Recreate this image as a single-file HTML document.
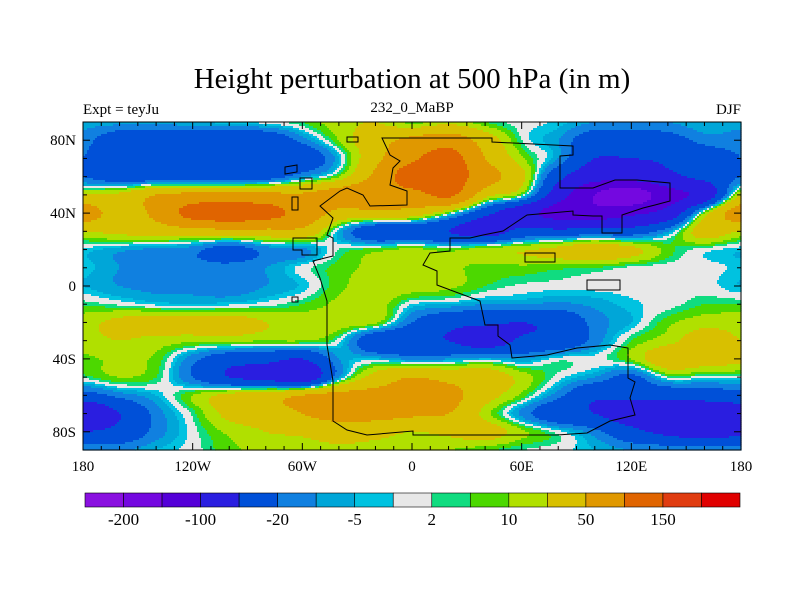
<!DOCTYPE html>
<html><head><meta charset="utf-8">
<style>
body{margin:0;background:#fff;}
svg{display:block;font-family:"Liberation Serif",serif;}
</style></head>
<body>
<svg id="chart" width="800" height="600" viewBox="0 0 800 600">
<rect width="800" height="600" fill="#fff"/>
<text x="412" y="88" text-anchor="middle" font-size="29">Height perturbation at 500 hPa (in m)</text>
<text x="83" y="114" font-size="15">Expt = teyJu</text>
<text x="412" y="112" text-anchor="middle" font-size="15">232_0_MaBP</text>
<text x="741" y="114" text-anchor="end" font-size="15">DJF</text>
<g id="field"></g>
<g id="coast"></g>
<g id="axes"></g>
<g id="cbar"></g>
</svg>
<script>
const lons=[-180,-160,-140,-120,-100,-80,-60,-40,-20,0,20,40,60,80,100,120,140,160,180];
const lats=[90,80,70,60,50,40,30,20,10,0,-10,-20,-30,-40,-50,-60,-70,-80,-90];
const heightRows=[
[-7,-7,-7,-5,-3,0,5,15,20,7,15,5,0,-3,-10,-10,-10,-5,-7],
[-15,-35,-40,-40,-40,-40,-15,10,35,60,75,35,2,-10,-35,-35,-30,-15,-15],
[-20,-35,-45,-45,-45,-45,-40,-5,40,90,125,50,12,-10,-50,-50,-45,-35,-20],
[-20,-35,-35,-35,-35,-30,-10,10,60,130,130,70,25,-40,-80,-80,-60,-40,-20],
[20,25,50,60,60,60,55,70,80,80,110,30,5,-75,-150,-180,-120,-80,20],
[70,35,60,120,130,120,80,40,40,35,5,-40,-80,-120,-130,-110,-80,10,70],
[20,25,30,35,40,40,40,-5,-40,-40,-50,-70,-40,-40,-35,-35,-10,30,20],
[-3,-8,-12,-15,-30,-15,-12,2,7,12,7,15,18,25,35,25,7,0,-4],
[-3,-10,-12,-15,-15,-10,0,7,12,12,12,7,8,6,5,1,0,0,-3],
[-5,-10,-12,-12,-15,-10,-4,8,15,15,12,5,1,0,0,0,0,0,-5],
[4,1,-3,-4,-3,0,5,12,15,-2,-5,-10,-10,-12,-8,-3,0,5,5],
[15,25,30,30,30,20,15,15,12,-20,-40,-45,-50,-40,-15,-5,8,15,15],
[15,20,15,12,12,10,10,0,-40,-45,-50,-70,-45,-40,-15,5,15,30,20],
[8,12,8,-15,-35,-40,-50,-10,-5,-12,-10,-5,-10,0,0,10,35,30,25],
[3,10,5,-20,-50,-60,-80,-10,30,50,40,35,15,0,-10,-25,2,0,0],
[-30,-15,-5,10,25,35,50,60,60,55,60,30,8,-15,-45,-40,-40,-35,-30],
[-90,-50,-15,3,25,30,50,60,60,55,50,15,-12,-40,-50,-70,-80,-80,-70],
[-50,-40,-15,0,12,20,25,35,30,20,25,30,12,0,-15,-40,-60,-70,-60],
[-10,-12,-5,0,8,12,12,15,12,10,10,6,2,0,-5,-10,-10,-12,-12]
];
const levelBounds=[-200,-150,-100,-50,-20,-10,-5,-2,2,5,10,20,50,100,150,200];
const tickLabels=["-200","-100","-20","-5","2","10","50","150"];
const colors=["#8a10e0","#7408e0","#5400d8","#2a1ee0","#0050d8","#1080e0","#00a6d8","#00c2e0","#e8e8e8","#10dc80","#4cd800","#b0e000","#d8c000","#e09800","#e06400","#e03c10","#e00000"];
const xTickLons=[-180,-120,-60,0,60,120,180];
const xTickText=["180","120W","60W","0","60E","120E","180"];
const yTickLats=[80,40,0,-40,-80];
const yTickText=["80N","40N","0","40S","80S"];

const X0=83,X1=741,Y0=122,Y1=450;
const xOf=lon=>X0+(lon+180)/360*(X1-X0);
const yOf=lat=>Y0+(90-lat)/180*(Y1-Y0);
const NS="http://www.w3.org/2000/svg";
function mk(tag,attrs,parent){const e=document.createElementNS(NS,tag);for(const k in attrs)e.setAttribute(k,attrs[k]);parent.appendChild(e);return e;}
function level(v){let k=0;while(k<levelBounds.length&&v>=levelBounds[k])k++;return k;}
function cr(p0,p1,p2,p3,t){return 0.5*((2*p1)+(-p0+p2)*t+(2*p0-5*p1+4*p2-p3)*t*t+(-p0+3*p1-3*p2+p3)*t*t*t);}
function sample(lon,lat){
  const fx=(lon-lons[0])/(lons[1]-lons[0]), fy=(lats[0]-lat)/(lats[0]-lats[1]);
  const nx=lons.length, ny=lats.length;
  const ix=Math.min(Math.floor(fx),nx-2), iy=Math.min(Math.floor(fy),ny-2);
  const tx=fx-ix, ty=fy-iy;
  const g=(i,j)=>heightRows[Math.max(0,Math.min(ny-1,j))][Math.max(0,Math.min(nx-1,i))];
  const r=[];
  for(let j=-1;j<3;j++)r.push(cr(g(ix-1,iy+j),g(ix,iy+j),g(ix+1,iy+j),g(ix+2,iy+j),tx));
  return cr(r[0],r[1],r[2],r[3],ty);
}
const field=document.getElementById('field');
const step=2;
for(let py=Y0;py<Y1;py+=step){
  const lat=90-(py+step/2-Y0)/(Y1-Y0)*180;
  let runStart=X0,runLev=-1;
  for(let px=X0;px<=X1;px+=step){
    let lev=-2;
    if(px<X1){const lon=-180+(px+step/2-X0)/(X1-X0)*360;lev=level(sample(lon,lat));}
    if(lev!==runLev){
      if(runLev>=0){
        const r=mk('rect',{x:runStart,y:py,width:Math.min(px,X1)-runStart+0.6,height:step+0.6,fill:colors[runLev]},field);
        
        
      }
      runStart=px;runLev=lev;
    }
  }
}
const coast=document.getElementById('coast');
const mainland=[[382,138],[492,138],[492,142],[573,146],[573,155],[560,156],[560,188],[593,188],[615,180],[637,180],[670,183],[670,201],[655,205],[643,208],[622,215],[622,233],[602,233],[602,216],[593,216],[573,215],[573,211],[527,215],[503,231],[483,235],[470,238],[450,238],[450,251],[430,253],[423,265],[437,271],[437,285],[453,291],[480,301],[485,325],[498,325],[498,336],[510,345],[512,358],[547,355],[577,348],[610,345],[628,348],[628,378],[635,382],[630,398],[635,415],[610,421],[587,433],[557,435],[413,435],[413,431],[367,435],[347,430],[333,421],[333,381],[327,345],[327,301],[320,278],[313,261],[333,256],[333,238],[327,235],[333,218],[320,206],[340,191],[347,188],[363,195],[370,206],[407,205],[407,191],[390,185],[393,168],[400,161],[390,155],[382,138]];
const isl=[[[285,167],[297,165],[297,172],[285,174]],[[300,178],[312,178],[312,189],[300,189]],[[292,197],[298,197],[298,210],[292,210]],[[293,238],[317,238],[317,255],[302,255],[302,250],[293,250]],[[292,297],[298,297],[298,302],[292,302]],[[347,137],[358,137],[358,142],[347,142]],[[525,253],[555,253],[555,262],[525,262]],[[587,280],[620,280],[620,290],[587,290]]];
[mainland,...isl].forEach((p,i)=>{const e=mk('polygon',{points:p.map(q=>q.join(',')).join(' '),fill:'none',stroke:'#000','stroke-width':1},coast);});
const axes=document.getElementById('axes');
mk('rect',{x:X0,y:Y0,width:X1-X0,height:Y1-Y0,fill:'none',stroke:'#000','stroke-width':1},axes);
for(let lon=-180;lon<=180;lon+=10){const x=xOf(lon),L=lon%60===0?7:4;mk('line',{x1:x,y1:Y0,x2:x,y2:Y0+L,stroke:'#000'},axes);mk('line',{x1:x,y1:Y1,x2:x,y2:Y1-L,stroke:'#000'},axes);}
for(let lat=-80;lat<=80;lat+=10){const y=yOf(lat),L=lat%40===0?7:4;mk('line',{x1:X0,y1:y,x2:X0+L,y2:y,stroke:'#000'},axes);mk('line',{x1:X1,y1:y,x2:X1-L,y2:y,stroke:'#000'},axes);}
xTickLons.forEach((lon,i)=>{const t=mk('text',{x:xOf(lon),y:471,'text-anchor':'middle','font-size':15},axes);t.textContent=xTickText[i];});
yTickLats.forEach((lat,i)=>{const t=mk('text',{x:76,y:yOf(lat)+5,'text-anchor':'end','font-size':15},axes);t.textContent=yTickText[i];});
const cb=document.getElementById('cbar');
const cx0=85,cx1=740,bw=(cx1-cx0)/colors.length;
colors.forEach((c,i)=>{const r=mk('rect',{x:cx0+i*bw,y:493,width:bw,height:14,fill:c,stroke:'#000','stroke-width':0.6},cb);});
tickLabels.forEach((s,i)=>{const t=mk('text',{x:cx0+(2*i+1)*bw,y:525,'text-anchor':'middle','font-size':17},cb);t.textContent=s;});
</script>
</body></html>
